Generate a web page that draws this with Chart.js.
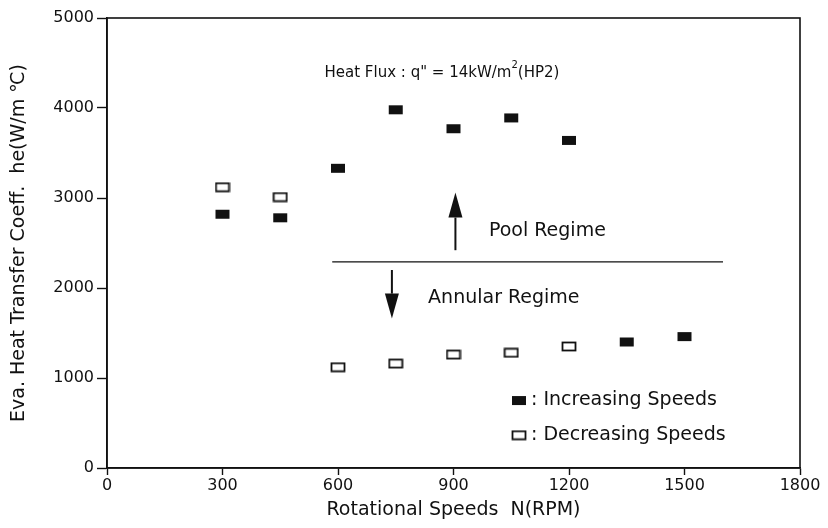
<!DOCTYPE html>
<html>
<head>
<meta charset="utf-8">
<script src="https://cdn.jsdelivr.net/npm/chart.js@4/dist/chart.umd.min.js"></script>
<style>
  html, body { margin: 0; background: #fff; }
  #wrap { width: 828px; height: 528px; }
</style>
</head>
<body>
<div id="wrap"><canvas id="myChart"></canvas></div>
<script>
// data
const speedsUp = [300, 450, 600, 750, 900, 1050, 1200, 1350, 1500];
const heUp = [2820, 2780, 3330, 3980, 3770, 3890, 3640, 1400, 1460];
const speedsDown = [300, 450, 600, 750, 900, 1050, 1200];
const heDown = [3120, 3010, 1120, 1160, 1260, 1280, 1350];

const xTicks = [0, 300, 600, 900, 1200, 1500, 1800];
const yTicks = [0, 1000, 2000, 3000, 4000, 5000];

// regime boundary + arrows (data units)
const boundaryX = [585, 1600];
const boundaryY = [2290, 2290];
const upArrow = [905, 2420, 3060];     // x, from, to
const downArrow = [740, 2200, 1660];

const FONT = '"DejaVu Sans", Verdana, sans-serif';
const INK = '#111';

function marker(filled) {
  const c = document.createElement('canvas');
  c.width = 16; c.height = 11;
  const g = c.getContext('2d');
  if (filled) {
    g.fillStyle = INK;
    g.fillRect(1, 1, 14, 9);
  } else {
    g.fillStyle = '#fff';
    g.fillRect(1.5, 1.5, 13, 8);
    g.strokeStyle = INK;
    g.lineWidth = 1.8;
    g.strokeRect(1.5, 1.5, 13, 8);
  }
  return c;
}
const filledBox = marker(true);
const openBox = marker(false);

const extras = {
  id: 'extras',
  afterDatasetsDraw(chart) {
    const { ctx, chartArea: a, scales: { x, y } } = chart;
    ctx.save();
    // frame
    ctx.strokeStyle = INK;
    ctx.lineWidth = 1.6;
    ctx.strokeRect(a.left, a.top, a.right - a.left, a.bottom - a.top);

    // arrows
    function arrow(v) {
      const px = x.getPixelForValue(v[0]);
      const p0 = y.getPixelForValue(v[1]);
      const p1 = y.getPixelForValue(v[2]);
      const dir = p1 < p0 ? -1 : 1;
      const head = 25;
      ctx.lineWidth = 2;
      ctx.beginPath();
      ctx.moveTo(px, p0);
      ctx.lineTo(px, p1 - dir * head);
      ctx.stroke();
      ctx.fillStyle = INK;
      ctx.beginPath();
      ctx.moveTo(px, p1);
      ctx.lineTo(px - 7, p1 - dir * head);
      ctx.lineTo(px + 7, p1 - dir * head);
      ctx.closePath();
      ctx.fill();
    }
    arrow(upArrow);
    arrow(downArrow);

    // texts
    ctx.fillStyle = INK;
    ctx.textBaseline = 'middle';
    ctx.textAlign = 'left';
    ctx.font = '15px ' + FONT;
    let tx = x.getPixelForValue(565), ty = y.getPixelForValue(4390);
    const s1 = 'Heat Flux : q" = 14kW/m';
    ctx.fillText(s1, tx, ty);
    tx += ctx.measureText(s1).width;
    ctx.font = '10px ' + FONT;
    ctx.fillText('2', tx, ty - 7);
    tx += ctx.measureText('2').width;
    ctx.font = '15px ' + FONT;
    ctx.fillText('(HP2)', tx, ty);

    ctx.font = '19px ' + FONT;
    ctx.fillText('Pool Regime', x.getPixelForValue(992), y.getPixelForValue(2630));
    ctx.fillText('Annular Regime', x.getPixelForValue(834), y.getPixelForValue(1890));

    // legend
    const lx = x.getPixelForValue(1070);
    const ly1 = y.getPixelForValue(755), ly2 = y.getPixelForValue(370);
    ctx.drawImage(filledBox, lx - 8, ly1 - 5);
    ctx.drawImage(openBox, lx - 8, ly2 - 5);
    ctx.fillText(': Increasing Speeds', lx + 12, ly1);
    ctx.fillText(': Decreasing Speeds', lx + 12, ly2);
    ctx.restore();
  }
};

const ctx = document.getElementById('myChart');

new Chart(ctx, {
  type: 'scatter',
  data: {
    datasets: [
      {
        label: 'Regime boundary',
        data: boundaryX.map((v, i) => ({ x: v, y: boundaryY[i] })),
        showLine: true,
        borderColor: INK,
        borderWidth: 1.4,
        pointRadius: 0
      },
      {
        label: 'Increasing Speeds',
        data: speedsUp.map((v, i) => ({ x: v, y: heUp[i] })),
        pointStyle: filledBox
      },
      {
        label: 'Decreasing Speeds',
        data: speedsDown.map((v, i) => ({ x: v, y: heDown[i] })),
        pointStyle: openBox
      }
    ]
  },
  options: {
    responsive: true,
    maintainAspectRatio: false,
    animation: false,
    layout: { padding: { left: 0, right: 28, top: 18, bottom: 0 } },
    plugins: { legend: { display: false }, tooltip: { enabled: false } },
    scales: {
      x: {
        type: 'linear',
        min: 0, max: 1800,
        afterBuildTicks: s => { s.ticks = xTicks.map(v => ({ value: v })); },
        afterFit: s => { s.height = 60; },
        grid: { drawOnChartArea: false, color: INK, tickLength: 7, tickWidth: 1.4 },
        border: { color: INK, width: 1.6 },
        ticks: { color: INK, padding: 1, font: { family: FONT, size: 16 },
                 callback: v => String(v) },
        title: { display: true, text: 'Rotational Speeds  N(RPM)', color: INK,
                 padding: { top: 0, bottom: 7 }, font: { family: FONT, size: 19 } }
      },
      y: {
        min: 0, max: 5000,
        afterBuildTicks: s => { s.ticks = yTicks.map(v => ({ value: v })); },
        afterFit: s => { s.width = 107; },
        grid: { drawOnChartArea: false, color: INK, tickLength: 10, tickWidth: 1.4 },
        border: { color: INK, width: 1.6 },
        ticks: { color: INK, padding: 3, font: { family: FONT, size: 16 },
                 callback: v => String(v) },
        title: { display: true, text: 'Eva. Heat Transfer Coeff.  he(W/m \u2103)', color: INK,
                 padding: { top: 8, bottom: 0 }, font: { family: FONT, size: 19 } }
      }
    }
  },
  plugins: [extras]
});
</script>
</body>
</html>
